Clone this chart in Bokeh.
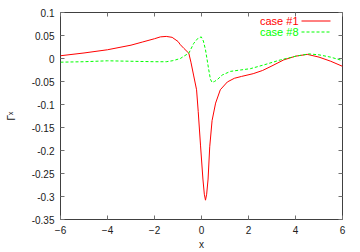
from bokeh.plotting import figure
from bokeh.models import (LinearAxis, FixedTicker, NumeralTickFormatter, Label, Arrow,
                          Range1d, ColumnDataSource)
from bokeh.embed import file_html
from bokeh.resources import INLINE

# ---------------- data ----------------
x_case1 = [-6.0, -5.0, -4.0, -3.0, -2.5, -2.0, -1.75, -1.5, -1.25, -1.0, -0.9, -0.75,
           -0.54, -0.45, -0.33, -0.21, -0.14, -0.04, 0.06, 0.12, 0.17, 0.22, 0.28,
           0.35, 0.45, 0.6, 0.8, 1.1, 1.4, 1.7, 2.2, 2.6, 3.0, 3.5, 4.0, 4.5, 5.0,
           5.5, 6.0]
y_case1 = [0.006, 0.012, 0.019, 0.029, 0.036, 0.043, 0.047, 0.048, 0.046, 0.037, 0.030,
           0.022, 0.0115, -0.008, -0.038, -0.068, -0.115, -0.19, -0.262, -0.295, -0.308,
           -0.295, -0.262, -0.192, -0.135, -0.097, -0.068, -0.051, -0.043, -0.039,
           -0.033, -0.026, -0.016, -0.003, 0.005, 0.009, 0.003, -0.006, -0.017]

x_case8 = [-6.0, -5.0, -4.0, -3.0, -2.0, -1.5, -1.25, -1.1, -0.9, -0.75, -0.54, -0.33,
           -0.15, -0.01, 0.08, 0.17, 0.31, 0.38, 0.45, 0.55, 0.67, 0.88, 1.23, 1.66,
           2.09, 2.65, 3.36, 4.07, 4.57, 5.0, 5.49, 6.0]
y_case8 = [-0.008, -0.007, -0.005, -0.006, -0.007, -0.007, -0.005, -0.003, 0.0, 0.005,
           0.0115, 0.033, 0.044, 0.047, 0.038, 0.019, -0.025, -0.045, -0.052, -0.050,
           -0.046, -0.036, -0.028, -0.025, -0.022, -0.014, -0.003, 0.0056, 0.010,
           0.008, 0.003, -0.0045]

x_ticks = [-6, -4, -2, 0, 2, 4, 6]
y_ticks = [0.1, 0.05, 0, -0.05, -0.1, -0.15, -0.2, -0.25, -0.3, -0.35]
series_names = ["case #1", "case #8"]
series_colors = ["#ff0000", "#00ff00"]

FONT = "Liberation Sans"
BORDER = "#404040"
TICK = "#707070"
TEXT = "#202020"

p = figure(width=360, height=252, output_backend="svg", toolbar_location=None,
           x_range=Range1d(-6, 6), y_range=Range1d(-0.35, 0.1),
           x_axis_location=None, y_axis_location=None,
           min_border_left=60, min_border_right=18, min_border_top=12, min_border_bottom=32)
p.grid.visible = False
p.outline_line_color = BORDER
p.outline_line_width = 1
p.background_fill_color = "white"
p.border_fill_color = "white"


def make_axis(ticks, show_labels, fmt=None, label=None, standoff=0):
    ax = LinearAxis(ticker=FixedTicker(ticks=ticks))
    if fmt is not None:
        ax.formatter = fmt
    ax.axis_line_color = None
    ax.major_tick_in = 4
    ax.major_tick_out = 0
    ax.major_tick_line_color = TICK
    ax.minor_tick_line_color = None
    ax.major_label_text_font = FONT
    ax.major_label_text_font_size = "10px"
    ax.major_label_text_color = TEXT
    ax.major_label_standoff = 6
    if label is not None:
        ax.axis_label = label
        ax.axis_label_text_font = FONT
        ax.axis_label_text_font_size = "10px"
        ax.axis_label_text_font_style = "normal"
        ax.axis_label_text_color = TEXT
        ax.axis_label_standoff = standoff
    if not show_labels:
        ax.major_label_text_alpha = 0
        ax.major_label_text_font_size = "1px"
        ax.major_label_standoff = 0
    return ax


fmt_y = NumeralTickFormatter(format="0.[00]")
p.add_layout(make_axis(y_ticks, True, fmt_y, label="Γˣ", standoff=12), "left")
p.add_layout(make_axis(x_ticks, True, label="x", standoff=2), "below")
p.add_layout(make_axis(y_ticks, False, fmt_y), "right")
p.add_layout(make_axis(x_ticks, False), "above")

src1 = ColumnDataSource(dict(x=x_case1, y=y_case1))
src8 = ColumnDataSource(dict(x=x_case8, y=y_case8))
p.line("x", "y", source=src1, line_color=series_colors[0], line_width=1)
p.line("x", "y", source=src8, line_color=series_colors[1], line_width=1, line_dash="3 2")

# legend (text right-aligned, sample line to the right), frame screen units
leg_y = [198.5, 187.5]
for i, name in enumerate(series_names):
    p.add_layout(Label(x=238, y=leg_y[i], x_units="screen", y_units="screen", text=name,
                       text_align="right", text_baseline="middle", text_font=FONT,
                       text_font_size="11px", text_color=series_colors[i]))
    p.add_layout(Arrow(end=None, x_start=241, y_start=leg_y[i], x_end=270, y_end=leg_y[i],
                       start_units="screen", end_units="screen",
                       line_color=series_colors[i], line_width=1,
                       line_dash="solid" if i == 0 else "3 2"))

open("out.html", "w").write(file_html(p, INLINE))
